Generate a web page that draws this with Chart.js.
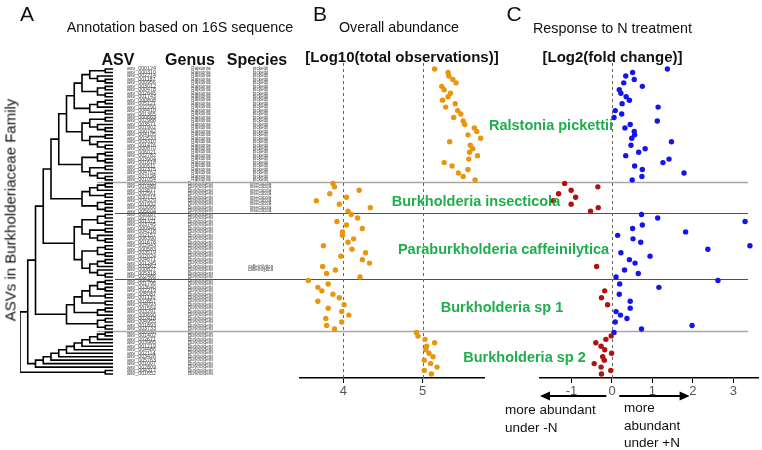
<!DOCTYPE html>
<html>
<head>
<meta charset="utf-8">
<script src="https://cdn.jsdelivr.net/npm/chart.js@4"></script>
<style>
  body { margin: 0; background: #fff; }
  #wrap { position: relative; width: 762px; height: 450px; overflow: hidden;
          font-family: "Liberation Sans", Arial, sans-serif; color: #111; }
  canvas { position: absolute; top: 0; }
  .t { position: absolute; white-space: nowrap; transform: translate(-50%, -50%); line-height: 1; }
  .b { font-weight: bold; }
  .grp { position: absolute; white-space: nowrap; transform: translate(-50%, -50%); line-height: 1;
         font-weight: bold; font-size: 14.5px; color: #1fae4c; }
  .note { position: absolute; white-space: nowrap; font-size: 13.5px; line-height: 17.5px; color: #111; }
</style>
</head>
<body>
<div id="wrap">
  <canvas id="chartA" width="300" height="450" style="left:0"></canvas>
  <canvas id="chartB" width="200" height="450" style="left:290px"></canvas>
  <canvas id="chartC" width="272" height="450" style="left:490px"></canvas>

  <div class="t" style="left:27px;top:12.5px;font-size:21px">A</div>
  <div class="t" style="left:320px;top:12.5px;font-size:21px">B</div>
  <div class="t" style="left:514px;top:13px;font-size:21px">C</div>

  <div class="t" style="left:180px;top:27px;font-size:14.3px">Annotation based on 16S sequence</div>
  <div class="t" style="left:399px;top:27px;font-size:14.3px">Overall abundance</div>
  <div class="t" style="left:612.5px;top:27.5px;font-size:14.3px">Response to N treatment</div>

  <div class="t b" style="left:402px;top:56px;font-size:15px">[Log10(total observations)]</div>
  <div class="t b" style="left:612.5px;top:56px;font-size:15px">[Log2(fold change)]</div>

  <div class="t b" style="left:118px;top:60px;font-size:16px">ASV</div>
  <div class="t b" style="left:190px;top:60px;font-size:16px">Genus</div>
  <div class="t b" style="left:257px;top:60px;font-size:16px">Species</div>

  <div class="t" style="left:9.5px;top:209.5px;font-size:15px;transform:translate(-50%,-50%) rotate(-90deg)">ASVs in Burkholderiaceae Family</div>

  <div class="grp" style="left:551px;top:125px">Ralstonia pickettii</div>
  <div class="grp" style="left:476px;top:200.5px">Burkholderia insecticola</div>
  <div class="grp" style="left:503.5px;top:249px">Paraburkholderia caffeinilytica</div>
  <div class="grp" style="left:502px;top:307px">Burkholderia sp 1</div>
  <div class="grp" style="left:524.5px;top:357px">Burkholderia sp 2</div>

  <div class="note" style="left:505px;top:401px">more abundant<br>under -N</div>
  <div class="note" style="left:624px;top:399px">more<br>abundant<br>under +N</div>
</div>

<script>
// groups of ASVs, top to bottom
const groupNames = ["Ralstonia pickettii", "Burkholderia insecticola", "Paraburkholderia caffeinilytica",
                    "Burkholderia sp 1", "Burkholderia sp 2"];
const groupSizes = [33, 9, 19, 15, 13];
const groupGenus = ["Ralstonia", "Burkholderia", "Burkholderia", "Burkholderia", "Burkholderia"];
const groupSpecies = ["pickettii", "insecticola", "", "", ""];
const speciesOverrides = { 57: "caffeinilytica", 58: "caffeinilytica" };

const asvNumbers = [
  124, 310, 2214, 1187, 956, 3012, 478, 2645, 1743, 808, 5121, 2290, 4410, 1365, 669, 2988, 3571,
  1902, 742, 4105, 2533, 3310, 1476, 870, 6021, 2782, 3904, 1618, 511, 2375, 4762, 3198, 1054,
  203, 1489, 3877, 2561, 715, 4329, 1932, 3066, 5604,
  187, 2702, 1321, 3745, 946, 4218, 2157, 6390, 1678, 2943, 583, 3519, 2024, 4671, 1245, 3362, 827, 5318, 2486,
  412, 1796, 3640, 2219, 5087, 1130, 2857, 4093, 1564, 3291, 690, 2418, 4955, 1893, 3733,
  96, 1402, 2671, 3985, 1219, 4486, 2114, 3428, 5763, 1007, 2809, 4317, 1652
];

// panel B: log10(total observations), one per ASV row
const logAbundance = [
  5.15, 5.32, 5.33, 5.38, 5.42, 5.24, 5.27, 5.35, 5.32, 5.25, 5.41, 5.29, 5.44, 5.48, 5.39, 5.51, 5.53,
  5.65, 5.68, 5.57, 5.73, 5.34, 5.60, 5.63, 5.59, 5.69, 5.58, 5.27, 5.37, 5.57, 5.45, 5.51, 5.66,
  3.87, 3.89, 4.20, 3.83, 4.04, 3.66, 3.95, 4.34, 4.06,
  4.10, 4.18, 3.92, 4.04, 4.24, 3.99, 3.99, 4.13, 4.06, 3.75, 4.11, 4.28, 3.97, 4.24, 4.33, 3.74, 3.90, 3.79, 4.21,
  3.56, 3.81, 3.68, 3.73, 3.87, 3.95, 3.68, 4.01, 3.81, 3.98, 4.07, 3.78, 3.98, 3.79, 3.89,
  4.92, 4.94, 5.03, 5.15, 5.05, 5.04, 5.08, 5.13, 5.02, 5.10, 5.18, 5.02, 5.11
];

// panel C: log2(fold change) under +N
const log2FoldChange = [
  1.37, 0.51, 0.34, 0.55, 0.29, 0.75, 0.18, 0.22, 0.35, 0.43, 0.25, 1.14, 0.08, 0.24, 0.05, 1.12, 0.45,
  0.32, 0.55, 0.56, 0.49, 1.47, 0.47, 0.82, 0.66, 0.34, 1.41, 1.26, 0.56, 0.75, 1.78, 0.74, 0.50,
  -1.17, -0.35, -1.01, -1.32, -0.90, -1.45, -1.01, -0.34, -0.53,
  0.73, 1.13, 3.29, 0.75, 0.51, 1.82, 0.14, 0.52, 0.71, 3.41, 2.37, 0.22, 0.94, 0.43, 0.57, -0.38, 0.31, 0.65, 0.10,
  2.62, 0.19, 1.16, -0.18, 0.18, -0.26, 0.45, -0.11, 0.45, 0.10, 0.21, 0.37, 0.08, 1.98, 0.73,
  0.05, -0.02, -0.15, -0.40, -0.27, -0.18, -0.01, -0.23, -0.19, -0.44, -0.27, -0.03, -0.26
];

const xTicksB = [4, 5];
const xTicksC = [-1, 0, 1, 2, 3];

// dendrogram, leaves (0) in row order
const treeRalstonia = [[[[[[0, 0], [0, [0, 0]]], [[0, 0], [0, 0]]], [[[0, 0], 0], [0, 0]]],
                        [[[0, 0], [0, [0, 0]]], [[0, 0], [0, [0, 0]]]]],
                       [[[0, 0], [0, 0]], [[0, 0], [0, [0, 0]]]]];
const treeInsecticola = [[[[0, 0], 0], [0, 0]], [[0, 0], [0, 0]]];
const treeCaffeinilytica = [[[[0, 0], [0, 0]], [[0, 0], [0, [0, 0]]]],
                            [[[0, 0], [0, 0]], [[[0, 0], 0], [0, [0, 0]]]]];
const treeSp1 = [[[[[[0, 0], [0, 0]], [0, 0]], [0, 0]], [[0, 0], 0]], [[0, 0], [0, 0]]];
const treeSp2 = [[[[[[[[[[0, 0], 0], 0], 0], 0], 0], 0], 0], 0], 0];
const treeOutgroup = [0, 0];
const tree = [[[[[treeRalstonia, treeInsecticola], treeCaffeinilytica], treeSp1], treeSp2], treeOutgroup];

// ---- derived ----
const asvLabels = asvNumbers.map(n => "asv_" + String(n).padStart(6, "0"));
const genusLabels = [], speciesLabels = [];
groupSizes.forEach((n, g) => {
  for (let k = 0; k < n; k++) {
    genusLabels.push(groupGenus[g]);
    speciesLabels.push(groupSpecies[g]);
  }
});
Object.keys(speciesOverrides).forEach(r => { speciesLabels[r] = speciesOverrides[r]; });

const groupBreaks = [];
let acc = 0;
groupSizes.slice(0, -1).forEach(n => { acc += n; groupBreaks.push(acc - 0.5); });

let leafCounter = 0;
const treeSegments = [];
function layout(node) {
  if (node === 0) return { y: leafCounter++, h: 0 };
  const kids = node.map(layout);
  const h = Math.max(...kids.map(k => k.h)) + 1;
  const first = kids[0], last = kids[kids.length - 1];
  treeSegments.push({ x: first.h, y: first.y }, { x: h, y: first.y }, { x: h, y: last.y },
                    { x: last.h, y: last.y }, { x: NaN, y: NaN });
  return { y: (first.y + last.y) / 2, h };
}
const rootHeight = layout(tree).h;

const yMin = -1.73, yMax = 89.15;
const orange = "#e8960e", blue = "#1414ee", red = "#b01212";

Chart.defaults.font.family = '"Liberation Sans", Arial, sans-serif';

// horizontal lines between groups
const breakStyles = [["#a8a8a8", 1.5], ["#505050", 1], ["#505050", 1], ["#a8a8a8", 1.5]];
const separatorPlugin = {
  id: "separators",
  beforeDatasetsDraw(chart, args, opts) {
    const ctx = chart.ctx, y = chart.scales.y;
    groupBreaks.forEach((b, i) => {
      const py = Math.round(y.getPixelForValue(b)) + 0.5;
      ctx.save();
      ctx.strokeStyle = breakStyles[i][0];
      ctx.lineWidth = breakStyles[i][1];
      ctx.beginPath();
      ctx.moveTo(opts.starts[i], py);
      ctx.lineTo(opts.end == null ? chart.width : opts.end, py);
      ctx.stroke();
      ctx.restore();
    });
  }
};

// dashed vertical reference lines
const refLinePlugin = {
  id: "refLines",
  beforeDatasetsDraw(chart, args, opts) {
    const ctx = chart.ctx, x = chart.scales.x, a = chart.chartArea;
    ctx.save();
    ctx.strokeStyle = "#666";
    ctx.lineWidth = 1;
    ctx.setLineDash([3, 3]);
    opts.at.forEach(v => {
      const px = Math.round(x.getPixelForValue(v)) + 0.5;
      ctx.beginPath();
      ctx.moveTo(px, a.top);
      ctx.lineTo(px, a.bottom);
      ctx.stroke();
    });
    ctx.restore();
  }
};

// arrows under panel C
const arrowPlugin = {
  id: "arrows",
  afterDraw(chart, args, opts) {
    const ctx = chart.ctx, x = chart.scales.x;
    const py = chart.chartArea.bottom + 18;
    ctx.save();
    ctx.strokeStyle = "#000";
    ctx.fillStyle = "#000";
    ctx.lineWidth = 2;
    opts.spans.forEach(([from, to]) => {
      const x0 = x.getPixelForValue(from), x1 = x.getPixelForValue(to);
      const dir = Math.sign(x1 - x0);
      ctx.beginPath();
      ctx.moveTo(x0, py);
      ctx.lineTo(x1 - dir * 7, py);
      ctx.stroke();
      ctx.beginPath();
      ctx.moveTo(x1, py);
      ctx.lineTo(x1 - dir * 10, py - 4.5);
      ctx.lineTo(x1 - dir * 10, py + 4.5);
      ctx.closePath();
      ctx.fill();
    });
    ctx.restore();
  }
};

function rowAxis(labels, width, pad, align, size, weight) {
  return {
    type: "linear", position: "right", reverse: true, min: yMin, max: yMax, weight,
    grid: { display: false }, border: { display: false },
    afterBuildTicks: s => { s.ticks = labels.map((_, i) => ({ value: i })); },
    afterFit: s => { s.width = width; },
    ticks: { autoSkip: false, padding: pad, crossAlign: align, color: "#444",
             font: { size }, callback: v => labels[v] }
  };
}

function valueAxis(min, max, ticks) {
  return {
    type: "linear", min, max,
    afterBuildTicks: s => { s.ticks = ticks.map(v => ({ value: v })); },
    afterFit: s => { s.height = 25; },
    grid: { drawOnChartArea: false, drawTicks: true, tickLength: 5, color: "#000", lineWidth: 1 },
    border: { display: true, color: "#000", width: 1.6 },
    ticks: { color: "#555", font: { size: 13 }, padding: 1 }
  };
}

const rowY = { display: false, reverse: true, min: yMin, max: yMax };
const common = { responsive: false, animation: false, events: [] };

new Chart(document.getElementById("chartA"), {
  type: "scatter",
  data: { datasets: [{ data: treeSegments, showLine: true, spanGaps: false, borderColor: "#000",
                       borderWidth: 1.6, pointRadius: 0, pointHoverRadius: 0,
                       borderJoinStyle: "miter", borderCapStyle: "square" }] },
  options: {
    ...common,
    layout: { padding: { left: 20, right: 7, top: 63, bottom: 72 } },
    plugins: { legend: { display: false }, tooltip: { enabled: false },
               separators: { starts: [97, 115, 115, 97] } },
    scales: {
      x: { type: "linear", display: false, reverse: true, min: 0, max: rootHeight },
      y: rowAxis(asvLabels, 60, 6, "near", 5.3, 0),
      yGenus: rowAxis(genusLabels, 40, 7, "center", 4.6, 1),
      ySpecies: rowAxis(speciesLabels, 80, 27, "center", 4.6, 2)
    }
  },
  plugins: [separatorPlugin]
});

new Chart(document.getElementById("chartB"), {
  type: "scatter",
  data: { datasets: [{ data: logAbundance.map((v, i) => ({ x: v, y: i })),
                       backgroundColor: orange, borderWidth: 0, pointRadius: 2.7 }] },
  options: {
    ...common,
    layout: { padding: { left: 10, right: 6, top: 63, bottom: 47 } },
    plugins: { legend: { display: false }, tooltip: { enabled: false },
               separators: { starts: [10, 10, 10, 10] }, refLines: { at: xTicksB } },
    scales: { x: valueAxis(3.455, 5.772, xTicksB), y: rowY }
  },
  plugins: [separatorPlugin, refLinePlugin]
});

new Chart(document.getElementById("chartC"), {
  type: "scatter",
  data: { datasets: [{ data: log2FoldChange.map((v, i) => ({ x: v, y: i })),
                       backgroundColor: c => (log2FoldChange[c.dataIndex] > 0 ? blue : red),
                       borderWidth: 0, pointRadius: 2.7 }] },
  options: {
    ...common,
    layout: { padding: { left: 50, right: 2, top: 63, bottom: 47 } },
    plugins: { legend: { display: false }, tooltip: { enabled: false },
               separators: { starts: [0, 0, 0, 0], end: 258 }, refLines: { at: [0] },
               arrows: { spans: [[-0.14, -1.78], [0.18, 1.92]] } },
    scales: { x: valueAxis(-1.78, 3.61, xTicksC), y: rowY }
  },
  plugins: [separatorPlugin, refLinePlugin, arrowPlugin]
});
</script>
</body>
</html>
